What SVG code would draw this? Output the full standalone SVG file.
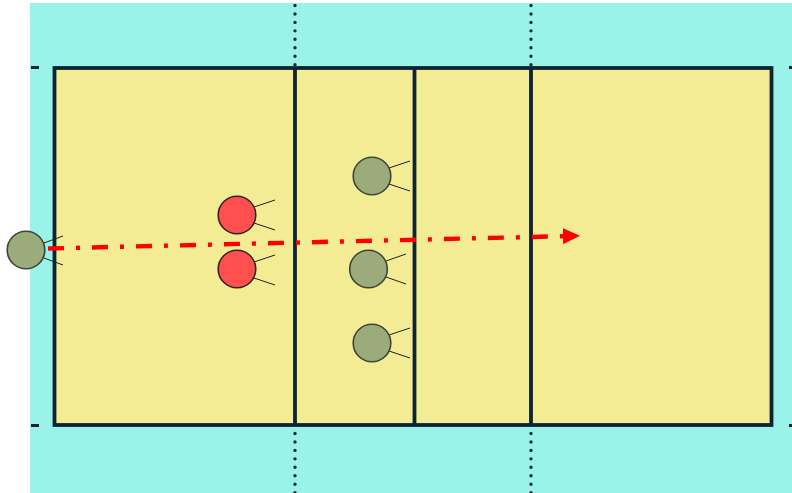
<svg xmlns="http://www.w3.org/2000/svg" width="792" height="493" viewBox="0 0 792 493">
<defs>
<style>
.court{fill:#f4ec94;stroke:#0f2433;stroke-width:3.8}
.line{stroke:#0f2433;stroke-width:3.8;fill:none}
.dot{stroke:#0f2c44;stroke-width:3.4;stroke-linecap:round;stroke-dasharray:0 8.45;fill:none}
.tick{stroke:#0f2433;stroke-width:3;fill:none}
.g{fill:#9cab7c;stroke:#3e4535;stroke-width:1.6}
.r{fill:#ff4f4f;stroke:#33251f;stroke-width:1.6}
.arm{stroke:#222;stroke-width:1;fill:none}
.pass{stroke:#ff0000;stroke-width:4.400;stroke-dasharray:16 12 4 12;fill:none}
</style>
<marker id="head" markerUnits="userSpaceOnUse" markerWidth="20" markerHeight="16" refX="0" refY="8" orient="auto"><path d="M0 0L17 8L0 16z" fill="#ff0000"/></marker>
</defs>
<rect x="30" y="3" width="762" height="490" fill="#99f3e8"/>
<g id="court">
<rect class="court" x="54.500" y="68" width="717" height="357"/>
<path class="line" d="M295 68V425M414.500 68V425M531 68V425"/>
<path class="dot" d="M295 5.500V66M295 433.500V493M531 5.500V66M531 433.500V493"/>
<path class="tick" d="M31 67.500H39M31 425.500H39M789 67.500H792M789 425.500H792"/>
</g>
<g id="player-server"><path class="arm" d="M44 243L63 236M44 258L63 265"/><circle class="g" cx="26" cy="250" r="18.800"/></g>
<g id="player-red-1"><path class="arm" d="M254 207L275 200M254 223L275 230"/><circle class="r" cx="237" cy="215" r="18.800"/></g>
<g id="player-red-2"><path class="arm" d="M254 262L275 255M254 278L275 285"/><circle class="r" cx="237" cy="269" r="18.800"/></g>
<g id="player-green-1"><path class="arm" d="M389 168L410 161M389 184L410 191"/><circle class="g" cx="372" cy="176" r="18.800"/></g>
<g id="player-green-2"><path class="arm" d="M386 261L406 254M386 277L406 284"/><circle class="g" cx="368.500" cy="269" r="18.800"/></g>
<g id="player-green-3"><path class="arm" d="M389 335L410 328M389 351L410 358"/><circle class="g" cx="372" cy="343" r="18.800"/></g>
<g id="connectors"><path class="pass" d="M48 248.500L563 236.200" marker-end="url(#head)"/></g>
</svg>
